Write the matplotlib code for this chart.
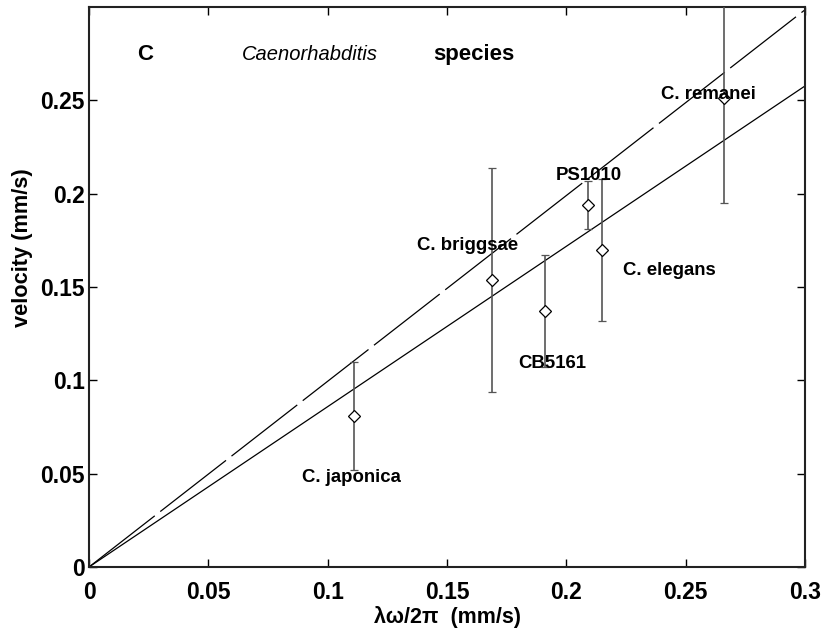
import matplotlib

matplotlib.use("Agg")
import matplotlib.pyplot as plt

# Caenorhabditis species: lambda*omega/2pi vs measured velocity (mm/s)
SPECIES = ["C. japonica", "C. briggsae", "CB5161", "PS1010", "C. elegans", "C. remanei"]
X = [0.111, 0.169, 0.191, 0.209, 0.215, 0.266]
V = [0.081, 0.154, 0.137, 0.194, 0.170, 0.251]
V_ERR = [0.029, 0.060, 0.030, 0.013, 0.038, 0.056]
LABEL_X = [0.110, 0.1585, 0.194, 0.2094, 0.2433, 0.2594]
LABEL_Y = [0.0477, 0.172, 0.1088, 0.2095, 0.1588, 0.2529]

FIT_X = [0.0, 0.3]
SLOPE_SOLID = 0.859
SLOPE_DASHED = 0.995

plt.rcParams["font.family"] = ["Liberation Sans", "DejaVu Sans"]
plt.rcParams["lines.scale_dashes"] = False

fig = plt.figure(figsize=(8.24, 6.29), dpi=100)
ax = fig.add_axes([89 / 824, 1 - 567 / 629, 716 / 824, 560 / 629])

ax.plot(FIT_X, [SLOPE_SOLID * x for x in FIT_X], color="black", lw=0.9)
ax.plot(FIT_X, [SLOPE_DASHED * x for x in FIT_X], color="black", lw=0.9,
        dashes=(60, 5))
ax.errorbar(X, V, yerr=V_ERR, fmt="D", ms=6, mfc="white", mec="black", mew=0.9,
            ecolor="#555555", elinewidth=1.2, capsize=2.6, capthick=1.0, zorder=3)

for name, lx, ly in zip(SPECIES, LABEL_X, LABEL_Y):
    ax.text(lx, ly, name, ha="center", va="center", fontsize=13.4,
            fontweight="bold", zorder=4)

# panel letter and in-axes title
ax.text(0.0235, 0.2744, "C", ha="center", va="center", fontsize=16, fontweight="bold")
ax.text(0.0924, 0.2744, "Caenorhabditis", ha="center", va="center", fontsize=14.5,
        style="italic")
ax.text(0.1613, 0.2744, "species", ha="center", va="center", fontsize=16,
        fontweight="bold")

ax.set_xlim(0, 0.3)
ax.set_ylim(0, 0.3)
ax.set_xticks([0, 0.05, 0.1, 0.15, 0.2, 0.25, 0.3])
ax.set_xticklabels(["0", "0.05", "0.1", "0.15", "0.2", "0.25", "0.3"])
ax.set_yticks([0, 0.05, 0.1, 0.15, 0.2, 0.25])
ax.set_yticklabels(["0", "0.05", "0.1", "0.15", "0.2", "0.25"])
ax.tick_params(direction="in", top=True, right=True, length=6, width=1.0,
               labelsize=16.5)
ax.tick_params(axis="x", pad=10)
ax.tick_params(axis="y", pad=3)
for lab in ax.get_xticklabels() + ax.get_yticklabels():
    lab.set_fontweight("bold")
for sp in ax.spines.values():
    sp.set_linewidth(1.5)
    sp.set_color("#222222")

ax.set_xlabel("λω/2π  (mm/s)", fontsize=15.5, fontweight="bold")
ax.set_ylabel("velocity (mm/s)", fontsize=15.7, fontweight="bold")
ax.xaxis.set_label_coords(0.5, -0.07)
ax.yaxis.set_label_coords(-0.078, 0.57)

fig.savefig("out.png", dpi=100)
